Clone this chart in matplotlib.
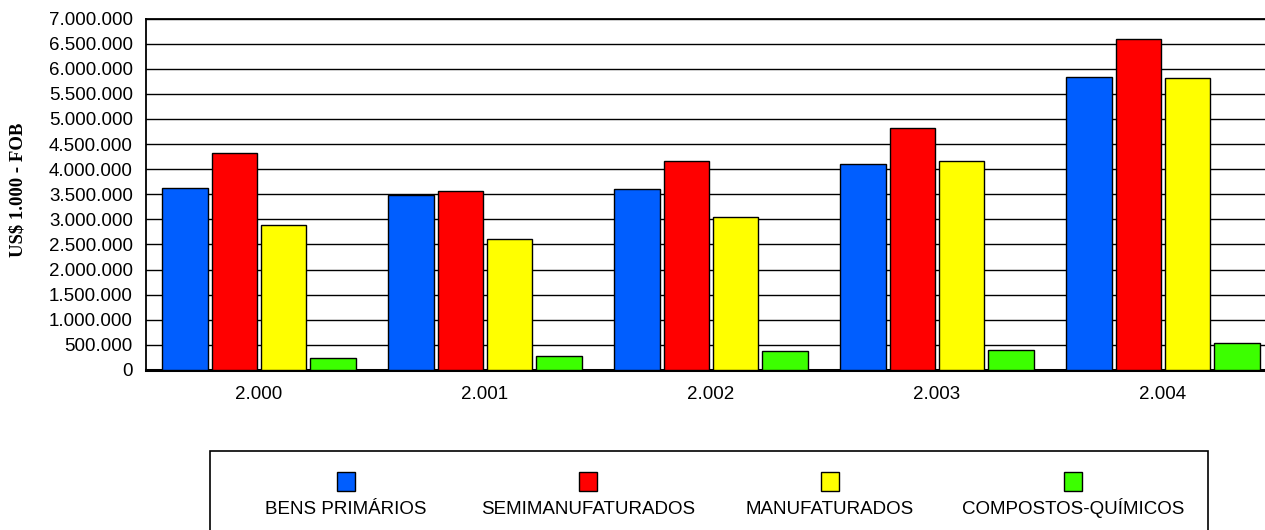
import numpy as np
import matplotlib.pyplot as plt
from matplotlib.patches import Rectangle

plt.rcParams['font.family'] = ['Liberation Sans', 'DejaVu Sans']

anos = ['2.000', '2.001', '2.002', '2.003', '2.004']
series = ['BENS PRIMÁRIOS', 'SEMIMANUFATURADOS', 'MANUFATURADOS', 'COMPOSTOS-QUÍMICOS']
bens = [3630000, 3480000, 3600000, 4100000, 5830000]
semi = [4320000, 3560000, 4170000, 4810000, 6590000]
manuf = [2880000, 2610000, 3040000, 4160000, 5810000]
quim = [245000, 272000, 370000, 400000, 530000]
cores = ['#005EFF', '#FF0000', '#FFFF00', '#3CFF00']
yticks = np.arange(0, 7000001, 500000)

def fmt(v):
    return f'{int(v):,}'.replace(',', '.')

fig = plt.figure(figsize=(12.65, 5.30), dpi=100)
ax = fig.add_axes([146 / 1265, 160 / 530, 1130 / 1265, 351.5 / 530])

x = np.arange(len(anos))
passo = 0.217
larg = 0.203
for i, (vals, cor) in enumerate(zip([bens, semi, manuf, quim], cores)):
    ax.bar(x + (i - 1.5) * passo, vals, larg, color=cor, edgecolor='black',
           linewidth=1, zorder=3)

ax.set_xlim(-0.5, 4.5)
ax.set_ylim(0, 7000000)
ax.set_yticks(yticks)
ax.set_yticklabels([fmt(v) for v in yticks], fontsize=13.5)
ax.set_xticks(x)
ax.set_xticklabels(anos, fontsize=13.5)
ax.tick_params(axis='both', length=0)
ax.tick_params(axis='y', pad=9.5)
ax.tick_params(axis='x', pad=11.5)
ax.grid(axis='y', color='black', linewidth=1, zorder=0)
ax.set_axisbelow(True)
for s in ['left', 'top']:
    ax.spines[s].set_color('black')
    ax.spines[s].set_linewidth(1.3)
ax.spines['bottom'].set_linewidth(2.2)
ax.spines['right'].set_visible(False)

fig.text(18 / 1265, (530 - 190) / 530, 'US$ 1.000 - FOB', rotation=90,
         ha='center', va='center', fontsize=13.5, fontweight='bold',
         family='Liberation Serif')

# caixa da legenda
fig.patches.append(Rectangle((210 / 1265, -0.05), 998 / 1265, 0.05 + 79 / 530,
                             transform=fig.transFigure, facecolor='white',
                             edgecolor='black', linewidth=1.2))
centros = [346, 588, 830, 1073]
for cx, cor, nome in zip(centros, cores, series):
    fig.patches.append(Rectangle(((cx - 9) / 1265, 39 / 530), 18 / 1265, 19 / 530,
                                 transform=fig.transFigure, facecolor=cor,
                                 edgecolor='black', linewidth=1))
    fig.text(cx / 1265, 15.5 / 530, nome, ha='center', va='baseline', fontsize=13.5)

fig.savefig('out.png', dpi=100)
